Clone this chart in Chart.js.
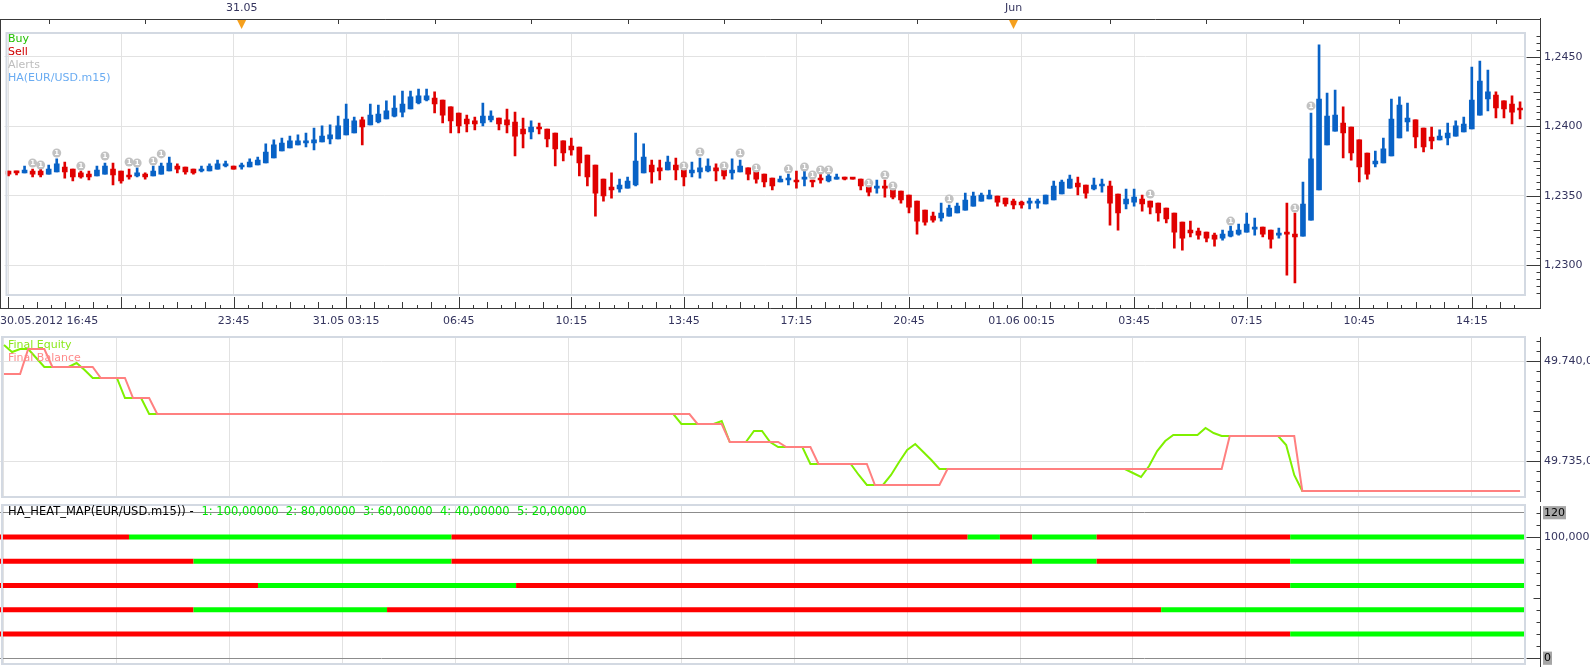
<!DOCTYPE html>
<html>
<head>
<meta charset="utf-8">
<script src="https://cdn.jsdelivr.net/npm/chart.js@4.4.1/dist/chart.umd.min.js"></script>
<style>
  html, body { margin: 0; padding: 0; background: #fff; }
  #wrap { position: relative; width: 1590px; height: 667px; overflow: hidden; }
  canvas { position: absolute; left: 0; }
</style>
</head>
<body>
<div id="wrap">
  <canvas id="priceChart" width="1590" height="332" style="top:0px"></canvas>
  <canvas id="equityChart" width="1590" height="170" style="top:332px"></canvas>
  <canvas id="heatChart" width="1590" height="165" style="top:502px"></canvas>
</div>
<script>
// EUR/USD m15 candles, 30.05.2012 16:45 onwards: [open, high, low, close]
const ohlc = [
  [1.23678,1.23678,1.23642,1.23656],[1.23678,1.23678,1.23649,1.23664],[1.23664,1.23714,1.23664,1.23685],
  [1.23678,1.23692,1.23635,1.23656],[1.23678,1.23707,1.23635,1.23649],[1.23656,1.23721,1.23656,1.23692],
  [1.23671,1.23765,1.23671,1.23729],[1.23707,1.23743,1.23627,1.23671],[1.23692,1.23692,1.23606,1.23635],
  [1.23664,1.23678,1.23627,1.23635],[1.23656,1.23678,1.23613,1.23635],[1.23642,1.23714,1.23642,1.23685],
  [1.23656,1.23736,1.23656,1.23714],[1.23692,1.23736,1.23577,1.23649],[1.23678,1.23678,1.23591,1.23606],
  [1.23649,1.23692,1.23620,1.23635],[1.23642,1.23700,1.23635,1.23664],[1.23656,1.23664,1.23620,1.23635],
  [1.23642,1.23714,1.23642,1.23678],[1.23656,1.23736,1.23656,1.23714],[1.23678,1.23779,1.23678,1.23736],
  [1.23714,1.23729,1.23664,1.23692],[1.23707,1.23707,1.23656,1.23671],[1.23692,1.23692,1.23656,1.23664],
  [1.23678,1.23714,1.23671,1.23692],[1.23678,1.23729,1.23678,1.23714],[1.23692,1.23757,1.23692,1.23729],
  [1.23714,1.23750,1.23707,1.23729],[1.23714,1.23714,1.23692,1.23692],[1.23707,1.23736,1.23692,1.23714],
  [1.23707,1.23765,1.23707,1.23743],[1.23721,1.23779,1.23721,1.23757],[1.23736,1.23873,1.23736,1.23815],
  [1.23772,1.23902,1.23772,1.23866],[1.23822,1.23916,1.23822,1.23880],[1.23844,1.23930,1.23844,1.23895],
  [1.23866,1.23938,1.23866,1.23895],[1.23880,1.23952,1.23851,1.23895],[1.23880,1.23988,1.23830,1.23902],
  [1.23887,1.24003,1.23887,1.23930],[1.23909,1.24010,1.23873,1.23938],[1.23909,1.24074,1.23909,1.24003],
  [1.23938,1.24161,1.23938,1.24053],[1.23952,1.24067,1.23952,1.24039],[1.24046,1.24067,1.23866,1.23995],
  [1.24010,1.24161,1.24010,1.24081],[1.24031,1.24154,1.24024,1.24089],[1.24053,1.24183,1.24053,1.24111],
  [1.24074,1.24219,1.24067,1.24132],[1.24103,1.24255,1.24067,1.24161],[1.24125,1.24255,1.24125,1.24212],
  [1.24168,1.24269,1.24161,1.24219],[1.24190,1.24269,1.24183,1.24219],[1.24204,1.24248,1.24096,1.24161],
  [1.24190,1.24190,1.24024,1.24081],[1.24140,1.24140,1.23952,1.24039],[1.24096,1.24096,1.23952,1.24003],
  [1.24053,1.24081,1.23959,1.24017],[1.24039,1.24067,1.23974,1.24017],[1.24024,1.24168,1.24003,1.24074],
  [1.24046,1.24111,1.24031,1.24074],[1.24060,1.24060,1.23974,1.24017],[1.24046,1.24125,1.23952,1.24010],
  [1.24031,1.24103,1.23786,1.23930],[1.23981,1.24060,1.23844,1.23945],[1.23959,1.24039,1.23909,1.23995],
  [1.23988,1.24024,1.23945,1.23981],[1.23981,1.23981,1.23851,1.23909],[1.23952,1.23952,1.23714,1.23837],
  [1.23895,1.23895,1.23750,1.23808],[1.23858,1.23916,1.23793,1.23830],[1.23851,1.23851,1.23642,1.23736],
  [1.23793,1.23793,1.23570,1.23635],[1.23721,1.23721,1.23353,1.23519],[1.23620,1.23620,1.23461,1.23498],
  [1.23563,1.23664,1.23483,1.23541],[1.23548,1.23620,1.23526,1.23577],[1.23555,1.23635,1.23555,1.23606],
  [1.23577,1.23952,1.23570,1.23750],[1.23664,1.23873,1.23664,1.23779],[1.23721,1.23757,1.23591,1.23671],
  [1.23700,1.23757,1.23613,1.23678],[1.23685,1.23786,1.23685,1.23743],[1.23721,1.23772,1.23613,1.23685],
  [1.23707,1.23721,1.23570,1.23635],[1.23664,1.23743,1.23635,1.23685],[1.23671,1.23772,1.23627,1.23700],
  [1.23678,1.23765,1.23671,1.23714],[1.23700,1.23729,1.23606,1.23678],[1.23692,1.23714,1.23620,1.23642],
  [1.23664,1.23765,1.23620,1.23685],[1.23671,1.23757,1.23671,1.23714],[1.23700,1.23700,1.23613,1.23656],
  [1.23678,1.23714,1.23591,1.23620],[1.23656,1.23656,1.23563,1.23599],[1.23627,1.23627,1.23541,1.23570],
  [1.23599,1.23642,1.23599,1.23620],[1.23613,1.23656,1.23577,1.23620],[1.23613,1.23678,1.23555,1.23599],
  [1.23620,1.23678,1.23570,1.23635],[1.23613,1.23613,1.23563,1.23599],[1.23627,1.23664,1.23591,1.23613],
  [1.23606,1.23664,1.23599,1.23642],[1.23620,1.23656,1.23620,1.23627],[1.23627,1.23635,1.23613,1.23620],
  [1.23627,1.23627,1.23620,1.23620],[1.23620,1.23620,1.23541,1.23570],[1.23599,1.23599,1.23498,1.23526],
  [1.23555,1.23613,1.23519,1.23570],[1.23563,1.23613,1.23490,1.23555],[1.23563,1.23577,1.23476,1.23490],
  [1.23534,1.23534,1.23447,1.23469],[1.23505,1.23505,1.23375,1.23418],[1.23461,1.23461,1.23223,1.23317],
  [1.23396,1.23396,1.23288,1.23310],[1.23353,1.23382,1.23310,1.23324],[1.23339,1.23447,1.23317,1.23375],
  [1.23353,1.23433,1.23353,1.23411],[1.23375,1.23447,1.23375,1.23425],[1.23396,1.23519,1.23396,1.23469],
  [1.23425,1.23526,1.23425,1.23498],[1.23461,1.23519,1.23461,1.23505],[1.23476,1.23541,1.23476,1.23505],
  [1.23498,1.23498,1.23425,1.23454],[1.23483,1.23483,1.23425,1.23440],[1.23461,1.23476,1.23404,1.23433],
  [1.23454,1.23461,1.23411,1.23433],[1.23447,1.23483,1.23404,1.23454],[1.23447,1.23476,1.23411,1.23454],
  [1.23440,1.23505,1.23440,1.23505],[1.23469,1.23606,1.23469,1.23570],[1.23512,1.23613,1.23512,1.23599],
  [1.23555,1.23649,1.23555,1.23620],[1.23591,1.23635,1.23505,1.23563],[1.23577,1.23577,1.23483,1.23519],
  [1.23548,1.23627,1.23541,1.23577],[1.23570,1.23620,1.23526,1.23577],[1.23570,1.23606,1.23288,1.23447],
  [1.23512,1.23512,1.23252,1.23375],[1.23440,1.23548,1.23404,1.23476],[1.23454,1.23548,1.23425,1.23490],
  [1.23476,1.23505,1.23389,1.23440],[1.23461,1.23461,1.23368,1.23418],[1.23447,1.23447,1.23317,1.23375],
  [1.23411,1.23411,1.23303,1.23332],[1.23375,1.23375,1.23122,1.23238],[1.23310,1.23310,1.23108,1.23194],
  [1.23252,1.23317,1.23202,1.23231],[1.23245,1.23267,1.23187,1.23216],[1.23238,1.23238,1.23166,1.23194],
  [1.23216,1.23231,1.23137,1.23187],[1.23194,1.23252,1.23180,1.23223],[1.23209,1.23281,1.23202,1.23245],
  [1.23223,1.23295,1.23216,1.23252],[1.23238,1.23375,1.23238,1.23295],[1.23259,1.23339,1.23216,1.23274],
  [1.23274,1.23274,1.23202,1.23223],[1.23252,1.23252,1.23122,1.23187],[1.23216,1.23267,1.23194,1.23231],
  [1.23231,1.23447,1.22927,1.23223],[1.23223,1.23375,1.22871,1.23202],[1.23209,1.23599,1.23209,1.23440],
  [1.23324,1.24096,1.23324,1.23765],[1.23541,1.24587,1.23541,1.24197],[1.23866,1.24240,1.23866,1.24074],
  [1.23966,1.24262,1.23966,1.24081],[1.24024,1.24140,1.23772,1.23952],[1.23995,1.23995,1.23757,1.23808],
  [1.23902,1.23902,1.23599,1.23707],[1.23808,1.23808,1.23620,1.23656],[1.23729,1.23822,1.23707,1.23750],
  [1.23736,1.23916,1.23736,1.23837],[1.23786,1.24197,1.23786,1.24053],[1.23916,1.24212,1.23916,1.24154],
  [1.24031,1.24168,1.23966,1.24060],[1.24046,1.24046,1.23844,1.23923],[1.23988,1.23988,1.23815,1.23851],
  [1.23923,1.23995,1.23837,1.23895],[1.23902,1.23974,1.23902,1.23930],[1.23916,1.24024,1.23866,1.23952],
  [1.23930,1.24039,1.23930,1.24003],[1.23959,1.24067,1.23959,1.24017],[1.23981,1.24428,1.23981,1.24190],
  [1.24081,1.24471,1.24081,1.24327],[1.24197,1.24406,1.24111,1.24248],[1.24226,1.24248,1.24060,1.24132],
  [1.24183,1.24183,1.24060,1.24125],[1.24161,1.24219,1.24017,1.24103],[1.24132,1.24176,1.24053,1.24118]
];

// alert markers (bar index, price)
const alertIdx = [3,4,6,9,12,15,16,18,19,84,86,89,91,93,97,99,100,101,102,107,109,110,117,142,152,160,162];
const alertPrice = [1.23736,1.23721,1.23808,1.23714,1.23786,1.23743,1.23736,1.23750,1.23801,1.23714,1.23815,
  1.23714,1.23808,1.23700,1.23692,1.23707,1.23649,1.23685,1.23685,1.23591,1.23649,1.23570,1.23476,1.23512,
  1.23317,1.23411,1.24147];

// equity / balance curve vertices (bar index, value)
const equityIdx = [0,1,2,3,4,5,8,9,10,11,14,15,17,18,83,84,88,89,90,92,93,94,95,96,99,100,105,106,107,109,
  110,111,112,113,114,115,116,139,140,141,142,143,144,145,148,149,150,151,158,159,160,161,188];
const equityVal = [49740.8,49740.45,49740.6,49740.6,49740.15,49739.7,49739.7,49739.9,49739.55,49739.15,
  49739.15,49738.15,49738.15,49737.35,49737.35,49736.85,49736.85,49737.0,49735.95,49735.95,
  49736.5,49736.5,49735.95,49735.7,49735.7,49734.85,49734.85,49734.3,49733.8,49733.8,
  49734.3,49734.95,49735.55,49735.85,49735.45,49735.05,49734.6,49734.6,49734.4,49734.2,
  49734.75,49735.5,49736.0,49736.3,49736.3,49736.65,49736.4,49736.25,49736.25,49735.8,
  49734.3,49733.5,49733.5];
const balanceIdx = [0,2,3,5,6,11,12,15,16,18,19,85,86,89,90,96,97,100,101,107,108,116,117,151,152,160,161,188];
const balanceVal = [49739.35,49739.35,49740.6,49740.6,49739.7,49739.7,49739.15,49739.15,49738.15,49738.15,
  49737.35,49737.35,49736.85,49736.85,49735.95,49735.95,49735.7,49735.7,49734.85,49734.85,
  49733.8,49733.8,49734.6,49734.6,49736.25,49736.25,49733.5,49733.5];

// heat map rows: [first bar index, signal] (1 = buy/green, -1 = sell/red)
const heatLevels = [100, 80, 60, 40, 20];
const heat100 = [[0,-1],[16,1],[56,-1],[120,1],[124,-1],[128,1],[136,-1],[160,1]];
const heat80 = [[0,-1],[24,1],[56,-1],[128,1],[136,-1],[160,1]];
const heat60 = [[0,-1],[32,1],[64,-1],[160,1]];
const heat40 = [[0,-1],[24,1],[48,-1],[144,1]];
const heat20 = [[0,-1],[160,1]];

// axes
const gridIdx = [0,14,28,42,56,70,84,98,112,126,140,154,168,182];
const xLabelIdx = [0,28,42,56,70,84,98,112,126,140,154,168,182];
const xLabelText = ['30.05.2012 16:45','23:45','31.05 03:15','06:45','10:15','13:45','17:15','20:45',
  '01.06 00:15','03:45','07:15','10:45','14:15'];
const topTickIdx = [5,17,29,41,53,65,77,89,101,113,125,137,149,161,173,185];
const topMarkIdx = [29, 125];
const topMarkText = ['31.05', 'Jun'];
const priceTicks = [1.2450, 1.2400, 1.2350, 1.2300];
const equityTicks = [49740, 49735];
const heatTicks = [120, 100, 0];

const X_MIN = -0.496, X_MAX = 188.74;
const BLUE = '#0862c6', RED = '#e00000';
const GRID = '#e2e2e2', FRAME = '#d3d9e2', AXIS = '#3a3a3a', AXIS_TXT = '#34345e';
const AXIS_X = 1540.5;
const FONT = '"DejaVu Sans", Verdana, sans-serif';

Chart.defaults.font.family = FONT;
Chart.defaults.font.size = 11;

const fmtPrice = v => v.toFixed(4).replace('.', ',');
const fmtMoney = v => { const n = Math.round(v); return Math.floor(n / 1000) + '.' + String(n % 1000).padStart(3, '0') + ',00'; };

function xAxis(height) {
  return {
    type: 'linear', min: X_MIN, max: X_MAX, offset: false,
    grid: { color: GRID, drawTicks: false, offset: false },
    border: { display: false },
    ticks: { display: false },
    afterBuildTicks: s => { s.ticks = gridIdx.map(v => ({ value: v })); },
    afterFit: s => { s.height = height; s.paddingLeft = 0; s.paddingRight = 0; }
  };
}

function yAxis(min, max, tickVals, fmt, extra) {
  return Object.assign({
    position: 'right', min, max,
    grid: { color: GRID, drawTicks: false },
    border: { display: false },
    ticks: { padding: 18, color: AXIS_TXT, font: { size: 11 }, callback: v => fmt(v) },
    afterBuildTicks: s => { s.ticks = tickVals.map(v => ({ value: v })); },
    afterFit: s => { s.width = 64; s.paddingTop = 0; s.paddingBottom = 0; }
  }, extra || {});
}

function drawFrame(ctx, a) {
  ctx.strokeStyle = FRAME;
  ctx.lineWidth = 2;
  ctx.strokeRect(a.left + 2, a.top + 1, a.right - a.left - 3, a.bottom - a.top - 2);
}

function drawRightTicks(ctx, ys, step, half, major, yTop, yBot) {
  ctx.strokeStyle = AXIS;
  ctx.lineWidth = 1;
  ctx.beginPath();
  ctx.moveTo(AXIS_X, yTop);
  ctx.lineTo(AXIS_X, yBot);
  const k0 = Math.ceil(ys.min / step), k1 = Math.floor(ys.max / step);
  for (let k = k0; k <= k1; k++) {
    const v = k * step;
    const y = Math.round(ys.getPixelForValue(v)) + 0.5;
    const isMaj = Math.abs(v / major - Math.round(v / major)) < 1e-6;
    const isHalf = Math.abs(v / half - Math.round(v / half)) < 1e-6;
    const len = isMaj ? 14 : isHalf ? 7 : 4;
    ctx.moveTo(AXIS_X - len, y);
    ctx.lineTo(AXIS_X, y);
  }
  ctx.stroke();
}

const base = {
  responsive: false, animation: false, devicePixelRatio: 1, events: [],
  plugins: { legend: { display: false }, tooltip: { enabled: false } }
};

// ---------- price panel ----------
const candleColor = ohlc.map(c => (c[3] >= c[0] ? BLUE : RED));

const priceDecor = {
  id: 'priceDecor',
  afterDraw(chart) {
    const { ctx, chartArea: a } = chart;
    const xs = chart.scales.x, ys = chart.scales.y;
    ctx.save();
    drawFrame(ctx, a);

    ctx.strokeStyle = AXIS;
    ctx.lineWidth = 1;
    ctx.beginPath();
    ctx.moveTo(0, 19.5); ctx.lineTo(AXIS_X, 19.5);
    ctx.moveTo(0, 308.5); ctx.lineTo(AXIS_X, 308.5);
    ctx.moveTo(0.5, 19); ctx.lineTo(0.5, 309);
    topTickIdx.forEach(i => {
      const x = Math.round(xs.getPixelForValue(i)) + 0.5;
      ctx.moveTo(x, 19); ctx.lineTo(x, 24);
    });
    gridIdx.forEach(g => {
      const x = Math.round(xs.getPixelForValue(g)) + 0.5;
      ctx.moveTo(x, 297); ctx.lineTo(x, 308);
      for (let m = 1; m < 8; m++) {
        const xm = Math.round(xs.getPixelForValue(g + m * 1.75)) + 0.5;
        if (xm > a.right) break;
        const len = m % 2 ? 3 : 6;
        ctx.moveTo(xm, 308 - len); ctx.lineTo(xm, 308);
      }
    });
    ctx.stroke();
    drawRightTicks(ctx, ys, 0.0005, 0.0025, 0.005, 18, 309);

    ctx.font = '11px ' + FONT;
    ctx.textBaseline = 'middle';
    topMarkIdx.forEach((i, k) => {
      const x = xs.getPixelForValue(i);
      ctx.fillStyle = '#f5a01e';
      ctx.beginPath();
      ctx.moveTo(x - 4.5, 20); ctx.lineTo(x + 4.5, 20); ctx.lineTo(x, 29);
      ctx.closePath(); ctx.fill();
      ctx.fillStyle = AXIS_TXT;
      ctx.textAlign = 'center';
      ctx.fillText(topMarkText[k], x, 8);
    });
    xLabelIdx.forEach((i, k) => {
      ctx.textAlign = k === 0 ? 'left' : 'center';
      ctx.fillText(xLabelText[k], k === 0 ? 0 : xs.getPixelForValue(i), 321);
    });

    ctx.font = '11px ' + FONT;
    ctx.textAlign = 'left';
    [['Buy', '#22c000'], ['Sell', '#d00000'], ['Alerts', '#bdbdbd'], ['HA(EUR/USD.m15)', '#6aacf2']]
      .forEach((t, k) => { ctx.fillStyle = t[1]; ctx.fillText(t[0], 8, 39 + 13 * k); });

    ctx.font = 'bold 7px ' + FONT;
    ctx.fillStyle = '#ffffff';
    ctx.textAlign = 'center';
    chart.getDatasetMeta(0).data.forEach(p => ctx.fillText('1', p.x, p.y + 0.5));
    ctx.restore();
  }
};

new Chart(document.getElementById('priceChart'), {
  type: 'bar',
  data: {
    datasets: [
      {
        type: 'line', showLine: false, order: 0,
        data: alertIdx.map((x, k) => ({ x, y: alertPrice[k] })),
        pointRadius: 4.5, pointBackgroundColor: '#c2c2c2', pointBorderWidth: 0
      },
      {
        order: 1, grouped: false, barThickness: 5, minBarLength: 2, borderWidth: 0,
        data: ohlc.map((c, i) => ({ x: i, y: [c[0], c[3]] })),
        backgroundColor: candleColor
      },
      {
        order: 2, grouped: false, barThickness: 2, minBarLength: 1, borderWidth: 0,
        data: ohlc.map((c, i) => ({ x: i, y: [c[2], c[1]] })),
        backgroundColor: candleColor
      }
    ]
  },
  options: Object.assign({}, base, {
    layout: { padding: { top: 32, left: 0, right: 0, bottom: 0 } },
    scales: {
      x: xAxis(36),
      y: yAxis(1.22777, 1.24680, priceTicks, fmtPrice)
    }
  }),
  plugins: [priceDecor]
});

// ---------- equity panel ----------
const equityDecor = {
  id: 'equityDecor',
  afterDraw(chart) {
    const { ctx, chartArea: a } = chart;
    ctx.save();
    drawFrame(ctx, a);
    drawRightTicks(ctx, chart.scales.y, 0.5, 2.5, 5, 5, 170);
    ctx.font = '11px ' + FONT;
    ctx.textAlign = 'left';
    ctx.textBaseline = 'middle';
    ctx.fillStyle = '#8be81c'; ctx.fillText('Final Equity', 8, 13);
    ctx.fillStyle = '#ff8a8a'; ctx.fillText('Final Balance', 8, 26);
    ctx.restore();
  }
};

new Chart(document.getElementById('equityChart'), {
  type: 'line',
  data: {
    datasets: [
      {
        label: 'Final Balance', data: balanceIdx.map((x, k) => ({ x, y: balanceVal[k] })),
        borderColor: '#ff8080', borderWidth: 2, pointRadius: 0, tension: 0
      },
      {
        label: 'Final Equity', data: equityIdx.map((x, k) => ({ x, y: equityVal[k] })),
        borderColor: '#7ff000', borderWidth: 2, pointRadius: 0, tension: 0
      }
    ]
  },
  options: Object.assign({}, base, {
    layout: { padding: { top: 4, left: 0, right: 0, bottom: 4 } },
    scales: {
      x: xAxis(0),
      y: yAxis(49733.15, 49741.25, equityTicks, fmtMoney)
    }
  }),
  plugins: [equityDecor]
});

// ---------- heat map panel ----------
const heatRows = [heat100, heat80, heat60, heat40, heat20];
const heatTitle = 'HA_HEAT_MAP(EUR/USD.m15)) -';
const heatValues = heatLevels.map((v, k) => (k + 1) + ': ' + v.toFixed(5).replace('.', ',')).join('  ');

const heatDecor = {
  id: 'heatDecor',
  afterDraw(chart) {
    const { ctx, chartArea: a } = chart;
    ctx.save();
    drawFrame(ctx, a);
    drawRightTicks(ctx, chart.scales.y, 10, 50, 100, 4, 165);
    ctx.font = '11.5px ' + FONT;
    ctx.textAlign = 'left';
    ctx.textBaseline = 'middle';
    ctx.fillStyle = '#000000';
    ctx.fillText(heatTitle, 8, 10);
    const w = ctx.measureText(heatTitle).width;
    ctx.fillStyle = '#00e400';
    ctx.fillText(heatValues, 8 + w + 8, 10);
    ctx.restore();
  }
};

new Chart(document.getElementById('heatChart'), {
  type: 'line',
  data: {
    datasets: heatRows.map((runs, r) => ({
      data: runs.map(s => ({ x: s[0] - 0.5, y: heatLevels[r] })).concat([{ x: X_MAX + 1, y: heatLevels[r] }]),
      borderColor: '#ff0000', borderWidth: 5, borderCapStyle: 'butt', pointRadius: 0, tension: 0,
      segment: { borderColor: c => (runs[c.p0DataIndex][1] > 0 ? '#00ff00' : '#ff0000') }
    }))
  },
  options: Object.assign({}, base, {
    layout: { padding: { top: 2, left: 0, right: 0, bottom: 2 } },
    scales: {
      x: xAxis(0),
      y: yAxis(-5.6, 127.18, heatTicks, v => (v === 100 ? '100,000' : String(v)), {
        grid: { drawTicks: false, color: c => (c.tick && c.tick.value === 100 ? GRID : '#8c8c8c') },
        ticks: {
          padding: 18, font: { size: 11 },
          color: c => (c.tick && c.tick.value === 100 ? AXIS_TXT : '#000000'),
          showLabelBackdrop: c => !(c.tick && c.tick.value === 100),
          backdropColor: '#a6a6a6',
          backdropPadding: { top: 0, bottom: 0, left: 1, right: 1 },
          callback: v => (v === 100 ? '100,000' : String(v))
        }
      })
    }
  }),
  plugins: [heatDecor]
});
</script>
</body>
</html>
